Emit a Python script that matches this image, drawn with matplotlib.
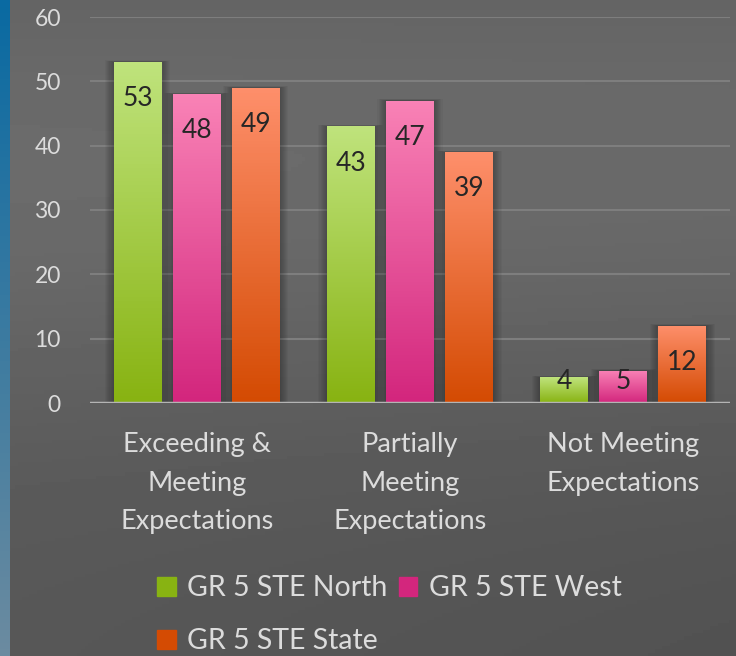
import numpy as np
import matplotlib
matplotlib.use('Agg')
import matplotlib.pyplot as plt
from matplotlib.patches import Patch, Rectangle
from matplotlib.colors import LinearSegmentedColormap

plt.rcParams['font.family'] = ['Lato', 'DejaVu Sans']

# dados
categorias = ['Exceeding &\nMeeting\nExpectations', 'Partially\nMeeting\nExpectations',
              'Not Meeting\nExpectations']
series = ['GR 5 STE North', 'GR 5 STE West', 'GR 5 STE State']
north = [53, 43, 4]
west = [48, 47, 5]
state = [49, 39, 12]
yticks = [0, 10, 20, 30, 40, 50, 60]

# cores (topo, base) de cada serie
cores = [('#bfe37c', '#88b312'), ('#f982b6', '#d3267d'), ('#fe8f6b', '#d44b03')]
txt = '#dcdcdc'

fig = plt.figure(figsize=(7.36, 6.56), dpi=100)

# fundo com degradê
bg = fig.add_axes([0, 0, 1, 1], zorder=-10)
bg.axis('off')
yy, xx = np.mgrid[0:1:200j, 0:1:200j]
fundo = 0.34 + 0.08 * np.exp(-((yy - 0.25) ** 2) / 0.15) - 0.02 * xx * yy
bg.imshow(fundo, cmap='gray', vmin=0, vmax=1, extent=[0, 1, 0, 1], aspect='auto', origin='upper')
azul = LinearSegmentedColormap.from_list('azul', ['#0a6aa2', '#6b8ba0'])
bg.imshow(np.linspace(0, 1, 100).reshape(-1, 1), cmap=azul, extent=[0, 10 / 736, 0, 1],
          aspect='auto', origin='upper')
bg.set_xlim(0, 1)
bg.set_ylim(0, 1)

ax = fig.add_axes([90 / 736, 1 - 403 / 656, 640 / 736, 386 / 656])
ax.patch.set_alpha(0)

x = np.arange(len(categorias))
w = 0.225
desloc = [-0.277, 0, 0.277]
dados = [north, west, state]

for i, vals in enumerate(dados):
    cmap = LinearSegmentedColormap.from_list('c%d' % i, [cores[i][0], cores[i][1]])
    for xi, v in zip(x, vals):
        xc = xi + desloc[i]
        # sombra suave
        for k in np.linspace(0.004, 0.04, 8):
            ax.add_patch(Rectangle((xc - w / 2 - k, 0), w + 2 * k, v + k * 6,
                                   facecolor='black', alpha=0.035, lw=0, zorder=2))
        barra = ax.bar(xc, v, w, color=cores[i][1], zorder=3)[0]
        grad = ax.imshow(np.linspace(0, 1, 100).reshape(-1, 1), cmap=cmap,
                         extent=[xc - w / 2, xc + w / 2, 0, v], aspect='auto',
                         origin='upper', zorder=4)
        grad.set_clip_path(barra)
        ax.text(xc, max(v - 5.7, 3.4), str(v), ha='center', va='center',
                fontsize=19, color='#262626', zorder=5)

ax.set_xlim(-0.5, 2.5)
ax.set_ylim(0, 60)
ax.set_aspect('auto')
ax.set_yticks(yticks)
ax.set_xticks(x)
ax.set_xticklabels(categorias, fontsize=19.5, color=txt, linespacing=1.68)
ax.tick_params(axis='y', colors=txt, labelsize=16.5, length=0, pad=21)
ax.tick_params(axis='x', length=0, pad=21)
ax.grid(axis='y', color='#7e7e7e', lw=1.5, zorder=1)
ax.axhline(0, color='#b4b4b4', lw=2.5, zorder=6)
for s in ax.spines.values():
    s.set_visible(False)

handles = [Patch(color=cores[0][1]), Patch(color=cores[2][1]), Patch(color=cores[1][1])]
labels = [series[0], series[2], series[1]]
fig.legend(handles, labels, ncol=2, loc='upper left', bbox_to_anchor=(140 / 736, 1 - 558 / 656),
           frameon=False, fontsize=20.5, labelcolor=txt, handlelength=0.65, handleheight=0.65,
           handletextpad=0.4, columnspacing=0.4, labelspacing=0.95, borderpad=0.1)

plt.savefig('out.png', dpi=100)
